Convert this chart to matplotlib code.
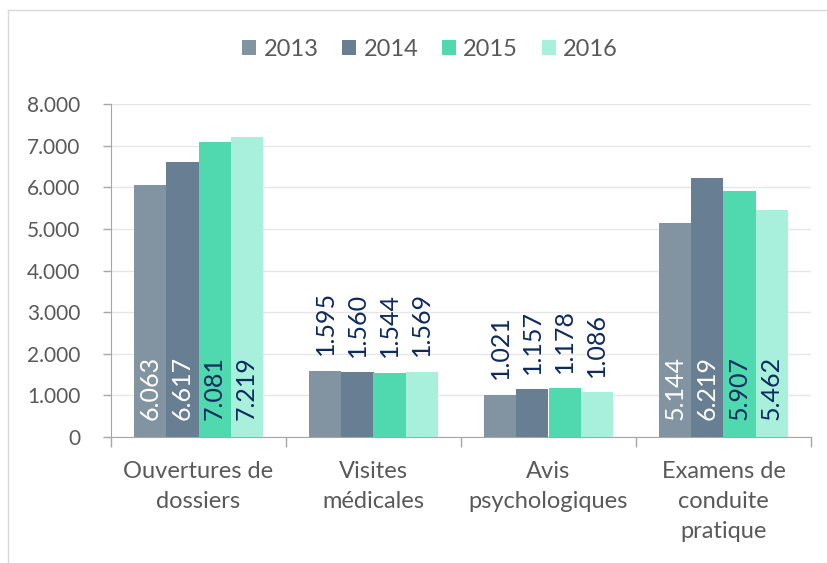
import matplotlib
matplotlib.use("Agg")
import matplotlib.pyplot as plt
import numpy as np

categories = ["Ouvertures de\ndossiers", "Visites\nmédicales", "Avis\npsychologiques", "Examens de\nconduite\npratique"]
years = ["2013", "2014", "2015", "2016"]
v2013 = [6063, 1595, 1021, 5144]
v2014 = [6617, 1560, 1157, 6219]
v2015 = [7081, 1544, 1178, 5907]
v2016 = [7219, 1569, 1086, 5462]
series = [v2013, v2014, v2015, v2016]
colors = ["#8293A2", "#687E93", "#50D9AE", "#A8F0DC"]
inside_label_colors = ["white", "white", "#0D2A5E", "#0D2A5E"]
outside_label_color = "#0D2A5E"
inside_categories = [0, 3]

def fmt(v):
    return f"{v:,}".replace(",", ".")

plt.rcParams['font.family'] = ['Lato', 'DejaVu Sans']
W, H = 828, 563
fig = plt.figure(figsize=(W/100, H/100), dpi=100)
ax = fig.add_axes([111/W, 1-437/H, (811-111)/W, (437-104)/H])

x = np.arange(len(categories))
w = 0.183
for i, (vals, c) in enumerate(zip(series, colors)):
    pos = x + (i - 1.5) * w
    bars = ax.bar(pos, vals, width=w, color=c, label=years[i], zorder=3)
    for j, (b, v) in enumerate(zip(bars, vals)):
        if j in inside_categories:
            ax.annotate(fmt(v), (b.get_x()+b.get_width()/2, 0), xytext=(0, 12),
                        textcoords="offset points", rotation=90, ha="center", va="bottom",
                        color=inside_label_colors[i], fontsize=18, zorder=4)
        else:
            ax.annotate(fmt(v), (b.get_x()+b.get_width()/2, v), xytext=(0, 11),
                        textcoords="offset points", rotation=90, ha="center", va="bottom",
                        color=outside_label_color, fontsize=18, zorder=4)

ax.set_xlim(-0.5, 3.5)
ax.set_ylim(0, 8000)
ax.set_yticks(np.arange(0, 8001, 1000))
ax.set_yticklabels([fmt(v) for v in range(0, 8001, 1000)])
ax.yaxis.grid(True, color="#E6E6E6", linewidth=1, zorder=0)
ax.set_axisbelow(True)

ax.set_xticks(np.arange(-0.5, 3.6, 1))
ax.set_xticklabels([])
ax.tick_params(axis="x", length=7, color="#A6A6A6", width=1)
ax.tick_params(axis="y", length=6, color="#A6A6A6", width=1, labelsize=15, labelcolor="#595959", pad=16)
for k, cat in enumerate(categories):
    ax.annotate(cat, (k, 0), xycoords=("data", "axes fraction"), xytext=(0, -17),
                textcoords="offset points", ha="center", va="top",
                fontsize=17, color="#595959", linespacing=1.55)

for s in ["top", "right"]:
    ax.spines[s].set_visible(False)
for s in ["left", "bottom"]:
    ax.spines[s].set_color("#A6A6A6")

leg = fig.legend(loc="center", bbox_to_anchor=(430/W, 1-49/H), ncol=4, frameon=False,
                 fontsize=17, handlelength=0.6, handleheight=0.6, handletextpad=0.3,
                 columnspacing=1.0, labelcolor="#595959")

# outer border
fig.add_artist(plt.Line2D([8/W, 8/W], [0, 1-10/H], color="#D9D9D9", lw=1, transform=fig.transFigure))
fig.add_artist(plt.Line2D([8/W, 1], [1-10/H, 1-10/H], color="#D9D9D9", lw=1, transform=fig.transFigure))

fig.savefig("out.png", dpi=100)
